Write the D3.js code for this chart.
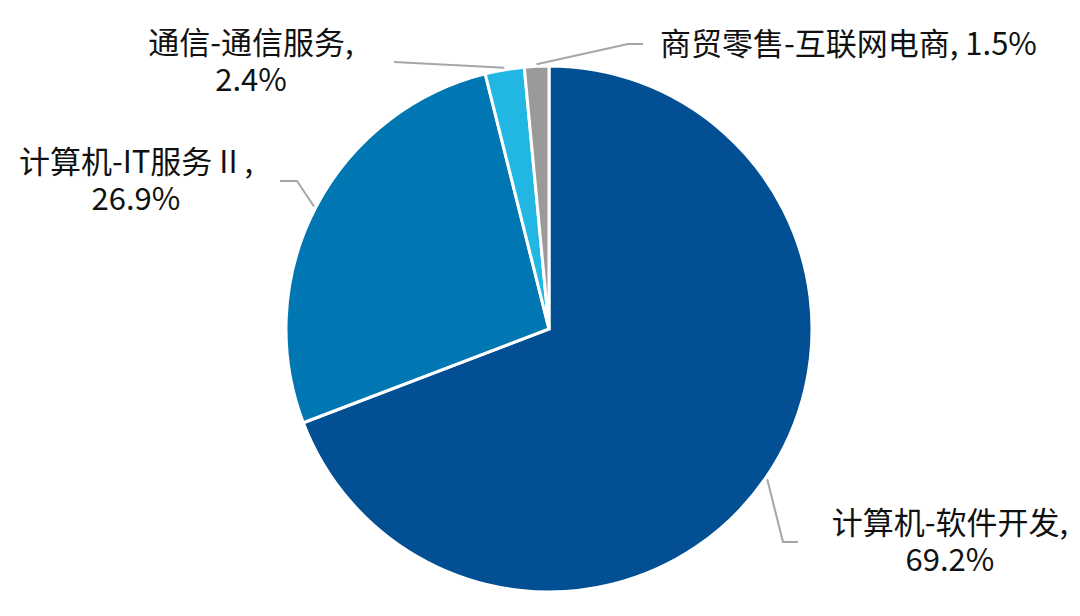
<!DOCTYPE html>
<html><head><meta charset="utf-8">
<script src="https://cdn.jsdelivr.net/npm/d3@7/dist/d3.min.js"></script>
<style>html,body{margin:0;padding:0;background:#fff;}</style>
</head><body>
<svg id="chart" width="1080" height="616"></svg>
<script>
const categories = ["计算机-软件开发", "计算机-IT服务 II ", "通信-通信服务", "商贸零售-互联网电商"];
const values = [69.2, 26.9, 2.4, 1.5];
const colors = ["#025093", "#0076B2", "#22B7E2", "#9A9A9A"];

// label layout (positions only)
const labelLayout = [
  {elbow:[783,542], end:[798,542], x:950, y:534, anchor:"middle", twoLines:true},
  {elbow:[297,181], end:[280,181], x:136, y:173, anchor:"middle", twoLines:true},
  {elbow:[394,62], end:[394,62], x:251, y:54, anchor:"middle", twoLines:true},
  {elbow:[628,44], end:[643,44], x:660, y:55, anchor:"start", twoLines:false}
];

const svg = d3.select("#chart");
const cx = 549, cy = 329, R = 263;
const g = svg.append("g").attr("transform", `translate(${cx},${cy})`);

const pie = d3.pie().sort(null).value(d => d)(values);
const arc = d3.arc().innerRadius(0).outerRadius(R);
const lineArc = d3.arc().innerRadius(R + 2).outerRadius(R + 2);

g.selectAll("path.slice").data(pie).enter().append("path")
  .attr("class","slice")
  .attr("d", arc)
  .attr("fill", (d,i) => colors[i])
  .attr("stroke", "#fff")
  .attr("stroke-width", 3)
  .attr("stroke-linejoin", "miter");

const font = "'Noto Sans CJK SC','Noto Sans',sans-serif";
function addText(x, y, anchor, str) {
  svg.append("text")
    .attr("x", x).attr("y", y)
    .attr("text-anchor", anchor)
    .attr("font-family", font)
    .attr("font-size", 31)
    .attr("fill", "#111")
    .text(str);
}

pie.forEach((d, i) => {
  const L = labelLayout[i];
  const c = lineArc.centroid(d);
  const p0 = [c[0] + cx, c[1] + cy];
  svg.append("polyline")
    .attr("points", [p0, L.elbow, L.end].map(p => p.join(",")).join(" "))
    .attr("fill", "none")
    .attr("stroke", "#A6A6A6")
    .attr("stroke-width", 2);
  const v = values[i].toFixed(1) + "%";
  if (L.twoLines) {
    addText(L.x, L.y, L.anchor, categories[i] + ",");
    addText(L.x, L.y + 37, L.anchor, v);
  } else {
    addText(L.x, L.y, L.anchor, categories[i] + ", " + v);
  }
});
</script>
</body></html>
